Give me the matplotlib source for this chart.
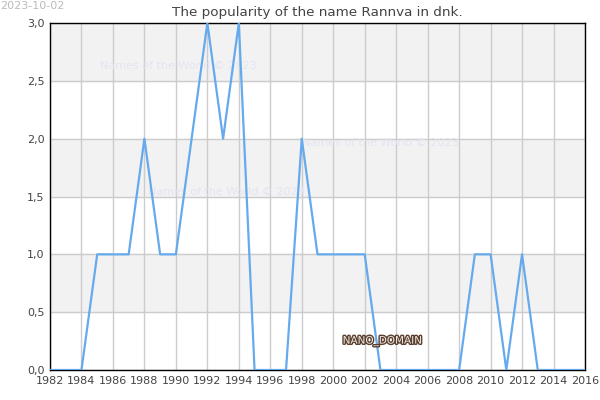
import matplotlib
matplotlib.use('Agg')
import matplotlib.pyplot as plt
import matplotlib.patheffects as pe
from matplotlib.ticker import FuncFormatter

years = list(range(1982, 2017))
counts = [0, 0, 0, 1, 1, 1, 2, 1, 1, 2, 3, 2, 3, 0, 0, 0, 2, 1, 1, 1, 1,
          0, 0, 0, 0, 0, 0, 1, 1, 0, 1, 0, 0, 0, 0]
xticks = list(range(1982, 2017, 2))
yticks = [0, 0.5, 1.0, 1.5, 2.0, 2.5, 3.0]

fig = plt.figure(figsize=(6, 4), dpi=100)
ax = fig.add_axes([50 / 600, 30 / 400, 535 / 600, 347 / 400])

# alternating horizontal bands
for i in range(len(yticks) - 1):
    if i % 2 == 1:
        ax.axhspan(yticks[i], yticks[i + 1], color='#f2f2f2', zorder=0)

ax.grid(True, color='#cccccc', linewidth=1, zorder=1)
ax.set_axisbelow(True)

ax.plot(years, counts, color='#66aaee', linewidth=1.6, zorder=3)

ax.set_xlim(1982, 2016)
ax.set_ylim(0, 3)
ax.set_xticks(xticks)
ax.set_yticks(yticks)
ax.yaxis.set_major_formatter(FuncFormatter(lambda v, p: f'{v:.1f}'.replace('.', ',')))
ax.tick_params(length=0, labelsize=8, colors='#444444', pad=4)

for side in ['top', 'right', 'left', 'bottom']:
    ax.spines[side].set_color('black')
    ax.spines[side].set_linewidth(1)

ax.set_title('The popularity of the name Rannva in dnk.', fontsize=9.7, color='#444444', pad=5)
fig.text(0.0, 0.997, '2023-10-02', fontsize=8, color='#bbbbbb', va='top', ha='left')

wm = dict(fontsize=8, color='#e4e4f2', zorder=2, va='center')
ax.text(1985.2, 2.63, 'Names of the World © 2023', **wm)
ax.text(1988.2, 1.54, 'Names of the World © 2023', **wm)
ax.text(1998.0, 1.96, 'Names of the World © 2023', **wm)

ax.text(2000.6, 0.25, 'NANO_DOMAIN', fontsize=7.5, color='#f0e8e0', zorder=4, va='center',
        path_effects=[pe.withStroke(linewidth=2, foreground='#5a4030')])

fig.savefig('out.png', dpi=100)
